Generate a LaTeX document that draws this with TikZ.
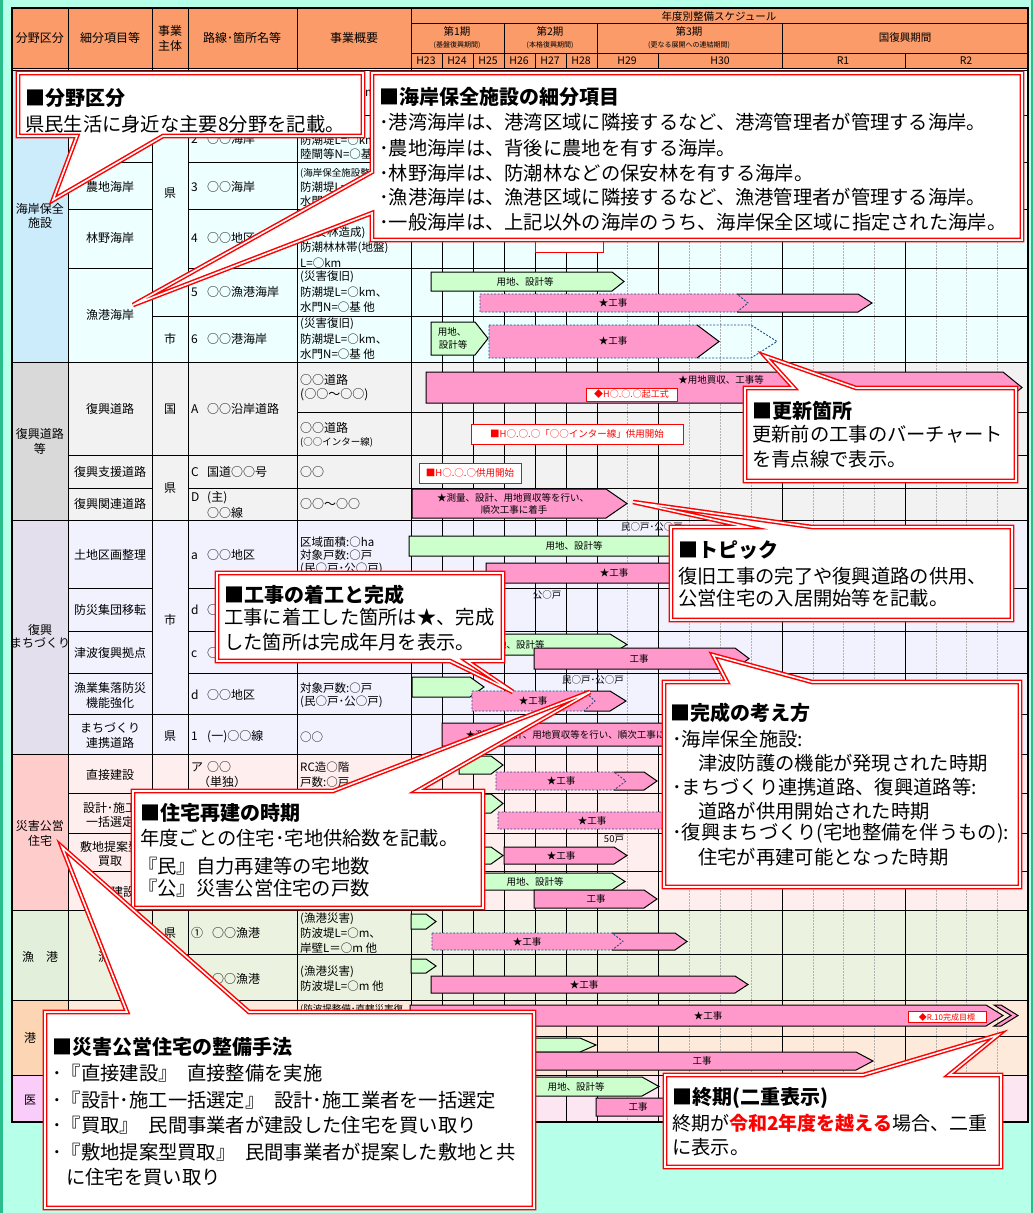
\documentclass[tikz,border=0pt]{standalone}
\usepackage{fontspec}
\setmainfont{Noto Sans CJK JP}
\definecolor{bgaqua}{RGB}{182,255,232}
\definecolor{edgec}{RGB}{40,190,140}
\definecolor{hdr}{RGB}{250,155,105}
\definecolor{kA}{RGB}{204,236,252}
\definecolor{kB}{RGB}{238,255,255}
\definecolor{rA}{RGB}{217,217,217}
\definecolor{rB}{RGB}{242,242,242}
\definecolor{mA}{RGB}{228,223,236}
\definecolor{mB}{RGB}{242,242,255}
\definecolor{sA}{RGB}{255,204,204}
\definecolor{sB}{RGB}{255,238,238}
\definecolor{gA}{RGB}{226,239,218}
\definecolor{gB}{RGB}{235,243,224}
\definecolor{pA}{RGB}{252,213,180}
\definecolor{pB}{RGB}{253,234,218}
\definecolor{iA}{RGB}{250,204,250}
\definecolor{iB}{RGB}{252,230,242}
\definecolor{barG}{RGB}{204,255,204}
\definecolor{barP}{RGB}{255,153,204}
\definecolor{oldB}{RGB}{31,78,140}
\tikzset{
  tt/.style={font=\fontsize{12}{14}\selectfont,inner sep=0pt},
  tw/.style={font=\fontsize{11.5}{13}\selectfont,inner sep=0pt,anchor=west},
  tsm/.style={font=\fontsize{9.5}{11}\selectfont,inner sep=0pt,anchor=west},
  hd/.style={font=\fontsize{12}{14}\selectfont,inner sep=0pt},
  hy/.style={font=\fontsize{10.5}{12}\selectfont,inner sep=0pt},
  hs/.style={font=\fontsize{7}{8}\selectfont,inner sep=0pt},
  bt/.style={font=\fontsize{9.5}{11}\selectfont,inner sep=0pt},
  ct/.style={font=\fontsize{19.3}{24}\selectfont,inner sep=0pt,anchor=west},
  ch/.style={font=\fontsize{20}{24}\selectfont\bfseries,inner sep=0pt,anchor=west},
  callout/.style={fill=white,draw=red,double=white,double distance=1.6pt,line width=1.5pt,line join=miter},
  gridl/.style={line width=0.8pt},
  dgrid/.style={draw=gray!60,dash pattern=on 1.5pt off 1.5pt,line width=0.7pt},
  gbar/.style={fill=barG,draw=black,line width=1pt,line join=miter},
  pbar/.style={fill=barP,draw=black,line width=1pt,line join=miter},
  oldb/.style={draw=oldB,dash pattern=on 2pt off 1.5pt,line width=0.9pt},
  redlab/.style={draw=red,fill=white,text=red,line width=0.8pt,inner sep=0pt,font=\fontsize{9.5}{11}\selectfont},
}
\newcommand\GBar[5]{\draw[gbar] (#1,#4) -- (#2,#4) -- (#3,{(#4+#5)/2}) -- (#2,#5) -- (#1,#5) -- cycle;}
\newcommand\PBar[5]{\draw[pbar] (#1,#4) -- (#2,#4) -- (#3,{(#4+#5)/2}) -- (#2,#5) -- (#1,#5) -- cycle;}
\newcommand\PBarOld[7]{%
  \fill[barP] (#1,#4) -- (#2,#4) -- (#3,{(#4+#5)/2}) -- (#2,#5) -- (#1,#5) -- cycle;
  \draw[line width=1pt,line join=miter] ({min(#2,#6)},#4) -- (#2,#4) -- (#3,{(#4+#5)/2}) -- (#2,#5) -- ({min(#2,#6)},#5);
  \draw[oldb] (#1,#4) -- (#6,#4) -- (#7,{(#4+#5)/2}) -- (#6,#5) -- (#1,#5) -- cycle;}
\newcommand\RN[2]{\makebox[16pt][l]{#1}#2}
\begin{document}
\begin{tikzpicture}[x=1pt,y=-1pt]
\useasboundingbox (0,0) rectangle (1033,1213);
\fill[bgaqua] (0,0) rectangle (1033,1213);
\fill[edgec] (0,0) rectangle (2.5,1213);
\fill[edgec] (1030.5,0) rectangle (1033,1213);
% ---------- fills
\fill[hdr] (12,8) rectangle (1028,68);
\fill[kA] (12,68) rectangle (68,362); \fill[kB] (68,68) rectangle (1028,362);
\fill[rA] (12,362) rectangle (68,520); \fill[rB] (68,362) rectangle (1028,520);
\fill[mA] (12,520) rectangle (68,754); \fill[mB] (68,520) rectangle (1028,754);
\fill[sA] (12,754) rectangle (68,910); \fill[sB] (68,754) rectangle (1028,910);
\fill[gA] (12,910) rectangle (68,1000); \fill[gB] (68,910) rectangle (1028,1000);
\fill[pA] (12,1000) rectangle (68,1075); \fill[pB] (68,1000) rectangle (1028,1075);
\fill[iA] (12,1075) rectangle (68,1122); \fill[iB] (68,1075) rectangle (1028,1122);
% ---------- grid
\foreach \xx in {627,689,720,751,813,843,874,936,966,997} \draw[dgrid] (\xx,71) -- (\xx,1122);
\foreach \xx in {442,473,504,535,566,597,658,782,905} \draw[gridl] (\xx,70) -- (\xx,1122);
\foreach \xx in {68,152,188,297,411} \draw[gridl] (\xx,8) -- (\xx,1122);
\foreach \yy in {115,162,209,268,316,362,455,488,520,588,631,673,714,754,793,833,871,910,954,1000,1036,1075} \draw[gridl] (188,\yy) -- (1028,\yy);
\foreach \yy in {115,162,209,268,362,455,488,520,588,631,673,714,754,793,833,871,910,1000,1075} \draw[gridl] (68,\yy) -- (152,\yy);
\foreach \yy in {316,362,455,520,714,754,910,954,1000,1075} \draw[gridl] (152,\yy) -- (188,\yy);
\foreach \yy in {362,520,754,910,1000,1075} \draw[gridl] (12,\yy) -- (68,\yy);
\draw[gridl] (297,412) -- (1028,412);
\draw[gridl] (411,23) -- (1028,23);
\draw[gridl] (411,53) -- (1028,53);
\foreach \xx in {504,597,782} \draw[gridl] (\xx,23) -- (\xx,53);
\foreach \xx in {442,473,504,535,566,597,658,782,905} \draw[gridl] (\xx,53) -- (\xx,68);
\draw[line width=0.8pt] (12,68) -- (1028,68);
\draw[line width=0.8pt] (12,70.5) -- (1028,70.5);
\draw[line width=1.2pt] (12,8) rectangle (1028,1122);
% ---------- header text
\node[hd] (h1) at (40,38) {分野区分};
\node[hd] (h2) at (110,38) {細分項目等};
\node[hd] (h3a) at (170,31) {事業};
\node[hd] (h3b) at (170,46) {主体};
\node[hd] (h4) at (242,38) {路線･箇所名等};
\node[hd] (h5) at (354,38) {事業概要};
\node[hy] (h6) at (719,16) {年度別整備スケジュール};
\node[hy] (p1) at (457,32) {第1期};
\node[hs] (p1s) at (457,45) {(基盤復興期間)};
\node[hy] (p2) at (550,32) {第2期};
\node[hs] (p2s) at (550,45) {(本格復興期間)};
\node[hy] (p3) at (689,32) {第3期};
\node[hs] (p3s) at (689,45) {(更なる展開への連結期間)};
\node[hy] (p4) at (905,38) {国復興期間};
\node[hy] (y1) at (426,61) {H23};
\node[hy] (y2) at (457,61) {H24};
\node[hy] (y3) at (488,61) {H25};
\node[hy] (y4) at (519,61) {H26};
\node[hy] (y5) at (550,61) {H27};
\node[hy] (y6) at (581,61) {H28};
\node[hy] (y7) at (627,61) {H29};
\node[hy] (y8) at (720,61) {H30};
\node[hy] (y9) at (843,61) {R1};
\node[hy] (y10) at (966,61) {R2};
% ---------- section 1
\node[tt] (a1) at (40,209) {海岸保全};
\node[tt] (a2) at (40,223) {施設};
\node[tt] (a3) at (110,187) {農地海岸};
\node[tt] (a4) at (110,238) {林野海岸};
\node[tt] (a5) at (110,315) {漁港海岸};
\node[tt] (a6) at (170,193) {県};
\node[tt] (a7) at (170,339) {市};
\node[tt,anchor=west] (a8) at (191,139) {\RN{2}{○○海岸}};
\node[tt,anchor=west] (a9) at (191,187) {\RN{3}{○○海岸}};
\node[tt,anchor=west] (a10) at (191,238) {\RN{4}{○○地区}};
\node[tt,anchor=west] (a11) at (191,292) {\RN{5}{○○漁港海岸}};
\node[tt,anchor=west] (a12) at (191,339) {\RN{6}{○○港海岸}};
\node[tw] (e1) at (300,92) {防潮堤L=○km、};
\node[tw] (e2) at (300,140) {防潮堤L=○km、};
\node[tw] (e3) at (300,154) {陸閘等N=○基};
\node[tsm] (e4) at (300,173) {(海岸保全施設整備)};
\node[tw] (e5) at (300,187) {防潮堤L=○km、};
\node[tw] (e6) at (300,201) {水門N=○基 他};
\node[tw] (e7) at (300,233) {(保安林造成)};
\node[tw] (e8) at (300,248) {防潮林林帯(地盤)};
\node[tw] (e9) at (300,263) {L=○km};
\node[tw] (e10) at (300,277) {(災害復旧)};
\node[tw] (e11) at (300,292) {防潮堤L=○km、};
\node[tw] (e12) at (300,307) {水門N=○基 他};
\node[tw] (e13) at (300,324) {(災害復旧)};
\node[tw] (e14) at (300,339) {防潮堤L=○km、};
\node[tw] (e15) at (300,354) {水門N=○基 他};
% ---------- section 2
\node[tt] (r1) at (40,434) {復興道路};
\node[tt] (r2) at (40,449) {等};
\node[tt] (r3) at (110,409) {復興道路};
\node[tt] (r4) at (110,472) {復興支援道路};
\node[tt] (r5) at (110,504) {復興関連道路};
\node[tt] (r6) at (170,409) {国};
\node[tt] (r7) at (170,488) {県};
\node[tt,anchor=west] (r8) at (191,409) {\RN{A}{○○沿岸道路}};
\node[tt,anchor=west] (r9) at (191,472) {\RN{C}{国道○○号}};
\node[tt,anchor=west] (r10) at (191,498) {\RN{D}{(主)}};
\node[tt,anchor=west] (r11) at (207,513) {○○線};
\node[tt,anchor=west] (r12) at (300,380) {○○道路};
\node[tt,anchor=west] (r13) at (300,395) {(○○～○○)};
\node[tt,anchor=west] (r14) at (300,428) {○○道路};
\node[tsm] (r15) at (300,442) {(○○インター線)};
\node[tt,anchor=west] (r16) at (300,472) {○○};
\node[tt,anchor=west] (r17) at (300,504) {○○～○○};
% ---------- section 3
\node[tt] (m1) at (40,630) {復興};
\node[tt] (m2) at (40,643) {まちづくり};
\node[tt] (m3) at (110,555) {土地区画整理};
\node[tt] (m4) at (110,610) {防災集団移転};
\node[tt] (m5) at (110,653) {津波復興拠点};
\node[tt] (m6) at (110,688) {漁業集落防災};
\node[tt] (m7) at (110,703) {機能強化};
\node[tt] (m8) at (110,728) {まちづくり};
\node[tt] (m9) at (110,743) {連携道路};
\node[tt] (m10) at (170,620) {市};
\node[tt] (m11) at (170,736) {県};
\node[tt,anchor=west] (m12) at (191,555) {\RN{a}{○○地区}};
\node[tt,anchor=west] (m13) at (191,610) {\RN{d}{○}};
\node[tt,anchor=west] (m14) at (191,653) {\RN{c}{○}};
\node[tt,anchor=west] (m15) at (191,695) {\RN{d}{○○地区}};
\node[tt,anchor=west] (m16) at (191,737) {\RN{1}{(一)○○線}};
\node[tw] (m17) at (300,542) {区域面積:○ha};
\node[tw] (m18) at (300,555) {対象戸数:○戸};
\node[tw] (m19) at (300,569) {(民○戸･公○戸)};
\node[tw] (m20) at (300,688) {対象戸数:○戸};
\node[tw] (m21) at (300,702) {(民○戸･公○戸)};
\node[tw] (m22) at (300,737) {○○};
% ---------- section 4
\node[tt] (d1) at (40,826) {災害公営};
\node[tt] (d2) at (40,841) {住宅};
\node[tt] (d3) at (110,775) {直接建設};
\node[tt] (d4) at (110,808) {設計･施工};
\node[tt] (d5) at (110,822) {一括選定};
\node[tt] (d6) at (110,847) {敷地提案型};
\node[tt] (d7) at (110,861) {買取};
\node[tt,anchor=west] (d8) at (111,892) {建設};
\node[tt,anchor=west] (d9) at (191,767) {\RN{ア}{○○}};
\node[tt,anchor=west] (d10) at (198,782) {（単独）};
\node[tw] (d11) at (300,767) {RC造○階};
\node[tw] (d12) at (300,782) {戸数:○戸};
% ---------- section 5-7
\node[tt] (f1) at (40,957) {漁　港};
\node[tt] (f2) at (110,957) {漁港};
\node[tt] (f3) at (170,933) {県};
\node[tt,anchor=west] (f4) at (191,933) {\makebox[21pt][l]{①}○○漁港};
\node[tt,anchor=west] (f5) at (212,979) {○○漁港};
\node[tw] (f6) at (300,919) {(漁港災害)};
\node[tw] (f7) at (300,933) {防波堤L=○m、};
\node[tw] (f8) at (300,948) {岸壁L＝○m 他};
\node[tw] (f9) at (300,972) {(漁港災害)};
\node[tw] (f10) at (300,986) {防波堤L=○m 他};
\node[tt] (k1) at (30,1038) {港};
\node[tsm] (k2) at (300,1009) {(防波堤整備･直轄災害復};
\node[tt] (k3) at (30,1100) {医};
% ---------- bars
\node[redlab,minimum width=68pt,minimum height=16pt] (l0) at (569,244) {};
\GBar{431}{612}{624}{272}{291}
\node[bt] (b1) at (525,281.5) {用地、設計等};
\PBarOld{480}{858}{872}{294}{312}{737}{748}
\node[bt] (b2) at (613,303) {★工事};
\GBar{431}{475}{488}{322}{355}
\node[bt] (b3a) at (452,332) {用地、};
\node[bt] (b3b) at (453,345) {設計等};
\PBarOld{489}{697}{719}{325}{358}{751}{777}
\node[bt] (b4) at (613,341) {★工事};
\PBar{426}{1003}{1022}{372}{403}
\node[bt] (b5) at (721,380) {★用地買収、工事等};
\node[redlab,minimum width=91pt,minimum height=13pt,font=\fontsize{9}{10}\selectfont] (l1) at (631.5,394.5) {◆H○.○.○起工式};
\node[redlab,minimum width=212pt,minimum height=20pt] (l2) at (577,434) {■H○.○.○「○○インター線」供用開始};
\node[redlab,minimum width=102pt,minimum height=20pt] (l3) at (470,473) {■H○.○.○供用開始};
\PBar{412}{606}{627}{489}{518}
\node[bt] (b6a) at (513,498) {★測量、設計、用地買収等を行い、};
\node[bt] (b6b) at (514,510) {順次工事に着手};
\node[bt] (s1) at (652,527) {民○戸･公○戸};
\GBar{409}{690}{702}{536}{556}
\node[bt] (b7) at (574,546) {用地、設計等};
\PBar{486}{700}{715}{563}{583}
\node[bt] (b8) at (614,573) {★工事};
\node[bt] (s2) at (547,595) {公○戸};
\GBar{430}{610}{627}{634}{655}
\node[bt] (b9) at (516,644.5) {用地、設計等};
\PBar{534}{735}{749}{648}{669}
\node[bt] (b10) at (639,658.5) {工事};
\node[bt] (s3) at (593,680) {民○戸･公○戸};
\GBar{412}{470}{484}{677}{697}
\PBarOld{472}{610}{626}{691}{711}{584}{595}
\node[bt] (b11) at (533,701) {★工事};
\PBar{442}{720}{735}{723}{746}
\node[bt] (b12) at (575,734.5) {★測量、設計、用地買収等を行い、順次工事に着手};
\GBar{459}{491}{503}{756}{774}
\PBarOld{496}{644}{657}{772}{790}{614}{626}
\node[bt] (b13) at (561,781) {★工事};
\GBar{459}{491}{503}{794}{813}
\PBarOld{498}{700}{715}{812}{829}{690}{702}
\node[bt] (b14) at (592,820.5) {★工事};
\node[bt] (s4) at (614,839) {50戸};
\GBar{459}{491}{503}{847}{864}
\PBar{504}{614}{627}{847}{864}
\node[bt] (b15) at (561,855.5) {★工事};
\GBar{470}{612}{625}{873}{890}
\node[bt] (b16) at (535,881.5) {用地、設計等};
\PBar{534}{644}{657}{890}{908}
\node[bt] (b17) at (596,899) {工事};
\GBar{411}{426}{436}{914}{929}
\PBarOld{432}{675}{687}{933}{950}{612}{623}
\node[bt] (b18) at (527,941.5) {★工事};
\GBar{411}{426}{436}{959}{973}
\PBar{431}{735}{748}{976}{993}
\node[bt] (b19) at (584,984.5) {★工事};
\PBar{410}{986}{1003}{1005}{1026}
\draw[pbar] (994,1005) -- (1001,1005) -- (1018,1015.5) -- (1001,1026) -- (994,1026) -- (1011,1015.5) -- cycle;
\node[bt] (b20) at (708,1015.5) {★工事};
\node[redlab,minimum width=78pt,minimum height=11pt,font=\fontsize{8}{9}\selectfont] (l4) at (947,1017) {◆R.10完成目標};
\GBar{430}{580}{596}{1038}{1052}
\PBar{500}{856}{873}{1052}{1070}
\node[bt] (b21) at (702,1061) {工事};
\GBar{500}{642}{659}{1077}{1096}
\node[bt] (b22) at (576,1086.5) {用地、設計等};
\PBar{596}{700}{715}{1098}{1116}
\node[bt] (b23) at (638,1107) {工事};
% ---------- callouts
\draw[callout] (18,73) -- (363,73) -- (363,136) -- (163,136) -- (53,200) -- (77,136) -- (18,136) -- cycle;
\node[ch] (c1t) at (25,98) {■分野区分};
\node[ct] (c1a) at (25,124) {県民生活に身近な主要8分野を記載。};

\draw[callout] (372,73) -- (1022,73) -- (1022,240) -- (372,240) -- (372,213) -- (133,305) -- (372,172) -- cycle;
\node[ch] (c2t) at (379,97) {■海岸保全施設の細分項目};
\node[ct] (c2a) at (379,122) {･港湾海岸は、港湾区域に隣接するなど、港湾管理者が管理する海岸。};
\node[ct] (c2b) at (379,148) {･農地海岸は、背後に農地を有する海岸。};
\node[ct] (c2c) at (379,173) {･林野海岸は、防潮林などの保安林を有する海岸。};
\node[ct] (c2d) at (379,197) {･漁港海岸は、漁港区域に隣接するなど、漁港管理者が管理する海岸。};
\node[ct] (c2e) at (379,222) {･一般海岸は、上記以外の海岸のうち、海岸保全区域に指定された海岸。};

\draw[callout] (745,388) -- (794,388) -- (765,356) -- (856,388) -- (1016,388) -- (1016,481) -- (745,481) -- cycle;
\node[ch] (c3t) at (752,411) {■更新箇所};
\node[ct] (c3a) at (752,434) {更新前の工事のバーチャート};
\node[ct] (c3b) at (752,459) {を青点線で表示。};

\draw[callout] (671,527) -- (747,527) -- (633,502) -- (812,527) -- (1012,527) -- (1012,620) -- (671,620) -- cycle;
\node[ch] (c4t) at (678,550) {■トピック};
\node[ct] (c4a) at (678,576) {復旧工事の完了や復興道路の供用、};
\node[ct] (c4b) at (678,598) {公営住宅の入居開始等を記載。};

\draw[callout] (217,573) -- (503,573) -- (503,661) -- (467,661) -- (513,692) -- (450,661) -- (217,661) -- cycle;
\node[ch] (c5t) at (224,595) {■工事の着工と完成};
\node[ct] (c5a) at (224,617) {工事に着工した箇所は★、完成};
\node[ct] (c5b) at (224,642) {した箇所は完成年月を表示。};

\draw[callout] (664,682) -- (727,682) -- (713,655) -- (812,682) -- (1020,682) -- (1020,887) -- (664,887) -- cycle;
\node[ch] (c6t) at (670,713) {■完成の考え方};
\node[ct] (c6a) at (672,739) {･海岸保全施設:};
\node[ct] (c6b) at (698,763) {津波防護の機能が発現された時期};
\node[ct] (c6c) at (672,787) {･まちづくり連携道路、復興道路等:};
\node[ct] (c6d) at (698,811) {道路が供用開始された時期};
\node[ct] (c6e) at (672,833) {･復興まちづくり(宅地整備を伴うもの):};
\node[ct] (c6f) at (698,857) {住宅が再建可能となった時期};

\draw[callout] (133,791) -- (333,791) -- (590,692) -- (417,791) -- (483,791) -- (483,908) -- (133,908) -- cycle;
\node[ch] (c7t) at (140,813) {■住宅再建の時期};
\node[ct] (c7a) at (140,838) {年度ごとの住宅･宅地供給数を記載。};
\node[ct] (c7b) at (138,866) {『民』自力再建等の宅地数};
\node[ct] (c7c) at (138,888) {『公』災害公営住宅の戸数};

\draw[callout] (45,1012) -- (127,1012) -- (62,847) -- (249,1012) -- (534,1012) -- (534,1208) -- (45,1208) -- cycle;
\node[ch] (c8t) at (52,1047) {■災害公営住宅の整備手法};
\node[ct] (c8a) at (52,1073) {･『直接建設』\hspace{0.5em}直接整備を実施};
\node[ct] (c8b) at (52,1100) {･『設計･施工一括選定』\hspace{0.5em}設計･施工業者を一括選定};
\node[ct] (c8c) at (52,1125) {･『買取』\hspace{0.5em}民間事業者が建設した住宅を買い取り};
\node[ct] (c8d) at (52,1152) {･『敷地提案型買取』\hspace{0.5em}民間事業者が提案した敷地と共};
\node[ct] (c8e) at (66,1177) {に住宅を買い取り};

\draw[callout] (665,1075) -- (863,1075) -- (998,1035) -- (949,1075) -- (1001,1075) -- (1001,1167) -- (665,1167) -- cycle;
\node[ch] (c9t) at (672,1098) {■終期(二重表示)};
\node[ct,font=\fontsize{19}{24}\selectfont] (c9a) at (672,1123) {終期が{\color{red}\bfseries 令和2年度を越える}場合、二重};
\node[ct] (c9b) at (672,1147) {に表示。};
\end{tikzpicture}
\end{document}
